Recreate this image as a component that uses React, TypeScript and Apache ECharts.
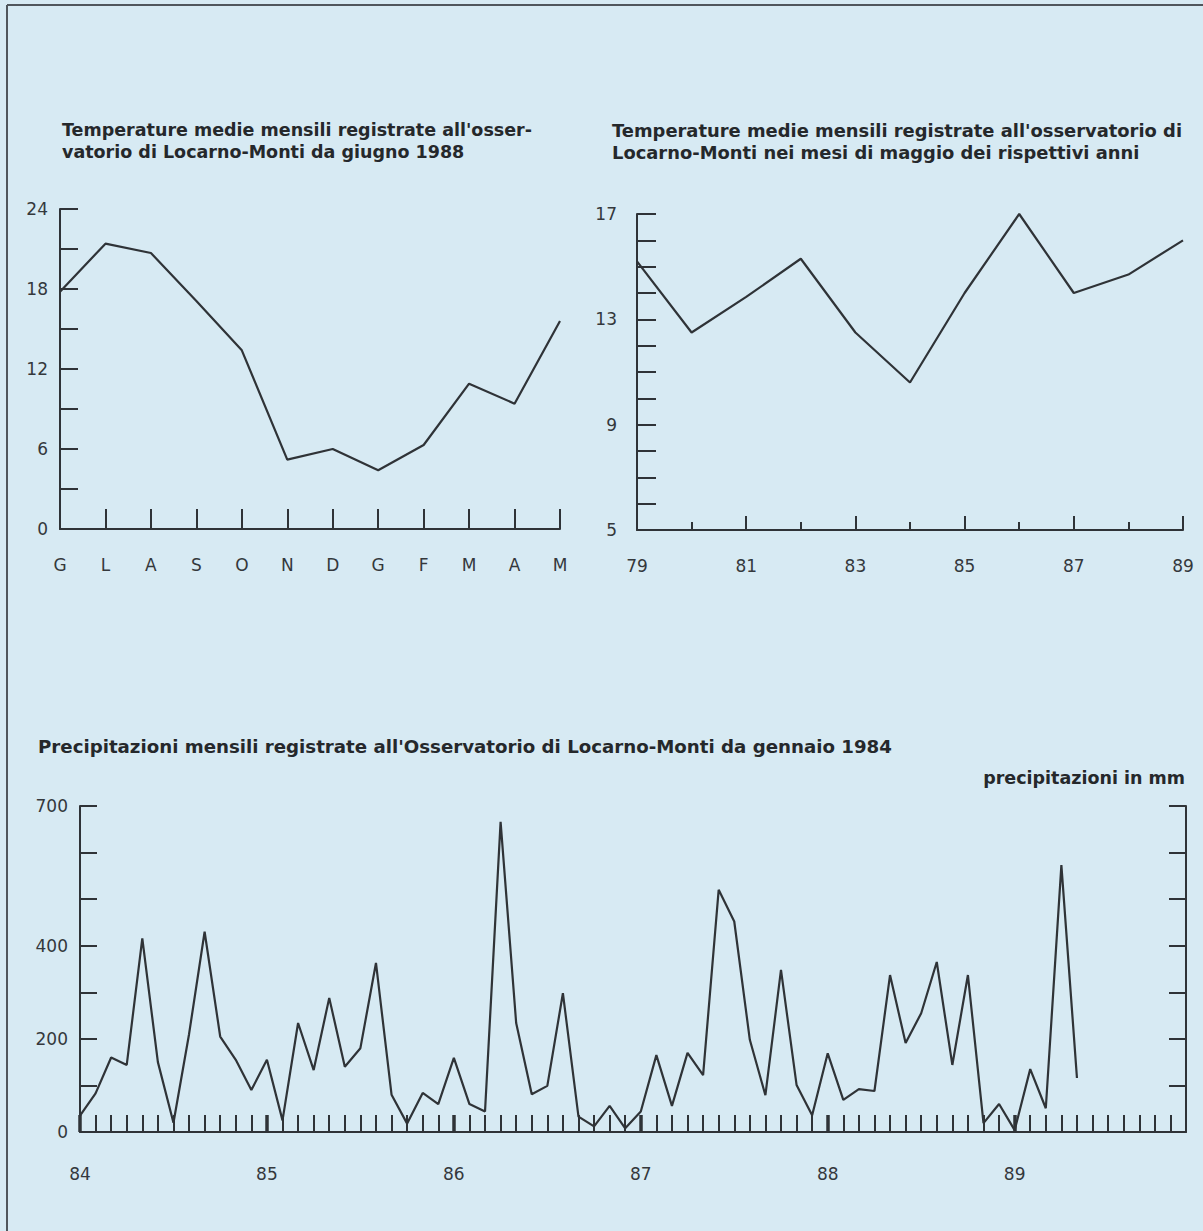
import React, { useEffect, useRef } from "react";
import * as echarts from "echarts";

// ---------- data ----------
const monthLabels = ["G", "L", "A", "S", "O", "N", "D", "G", "F", "M", "A", "M"];
const monthlyTemp = [17.8, 21.4, 20.7, 17.1, 13.4, 5.2, 6.0, 4.4, 6.3, 10.9, 9.4, 15.6];

const mayYears = [79, 80, 81, 82, 83, 84, 85, 86, 87, 88, 89];
const mayTemp = [15.2, 12.5, 13.85, 15.3, 12.5, 10.6, 14.0, 17.0, 14.0, 14.7, 16.0];

const rainYearLabels = ["84", "85", "86", "87", "88", "89"];
const rainMonthCount = 72;
const rainValues = [
  35, 83, 160, 144, 416, 150, 20, 210, 430, 205, 155, 90,
  155, 25, 234, 133, 288, 140, 180, 363, 80, 18, 84, 60,
  159, 60, 44, 666, 234, 81, 99, 298, 33, 12, 56, 8,
  44, 165, 56, 170, 122, 520, 452, 198, 79, 348, 101, 36,
  169, 69, 92, 88, 337, 191, 255, 365, 144, 337, 19, 60,
  4, 135, 51, 573, 116,
];

const titleLeft =
  "Temperature medie mensili registrate all'osser-\nvatorio di Locarno-Monti da giugno 1988";
const titleRight =
  "Temperature medie mensili registrate all'osservatorio di\nLocarno-Monti nei mesi di maggio dei rispettivi anni";
const titleBottom =
  "Precipitazioni mensili registrate all'Osservatorio di Locarno-Monti da gennaio 1984";
const unitLabel = "precipitazioni in mm";

// ---------- styles ----------
const BG = "#d7eaf3";
const INK = "#2f3337";
const FONT = "'DejaVu Sans', Verdana, sans-serif";

const labelStyle = { color: "#34383c", fontSize: 17, fontFamily: FONT };
const lineStyle = { color: INK, width: 2 };

export default function App() {
  const ref = useRef<HTMLDivElement>(null);

  useEffect(() => {
    if (!ref.current) return;
    const chart = echarts.init(ref.current, undefined, { renderer: "svg" });

    const monthCats = monthLabels.map((_, i) => String(i));
    const rainCats = Array.from({ length: rainMonthCount }, (_, i) => String(i));

    const titleText = (size: number) => ({
      color: "#25282b",
      fontSize: size,
      fontWeight: "bold" as const,
      fontFamily: FONT,
      lineHeight: 22,
    });

    chart.setOption({
      animation: false,
      backgroundColor: BG,
      title: [
        { text: titleLeft, left: 62, top: 119, padding: 0, textStyle: titleText(17.5) },
        { text: titleRight, left: 612, top: 119, padding: 0, textStyle: titleText(17.9) },
        { text: titleBottom, left: 38, top: 735, padding: 0, textStyle: titleText(18.2) },
        { text: unitLabel, right: 18, top: 767, padding: 0, textStyle: titleText(17.5) },
      ],
      graphic: [
        { type: "line", shape: { x1: 7, y1: 5, x2: 1203, y2: 5 }, style: { stroke: "#50565c", lineWidth: 2 } },
        { type: "line", shape: { x1: 7, y1: 5, x2: 7, y2: 1231 }, style: { stroke: "#50565c", lineWidth: 2 } },
      ],
      grid: [
        { left: 60, top: 209, width: 500, height: 320, containLabel: false },
        { left: 637, top: 214, width: 546, height: 316, containLabel: false },
        { left: 80, top: 806, width: 1106, height: 326, containLabel: false },
      ],
      xAxis: [
        {
          gridIndex: 0,
          type: "category",
          data: monthCats,
          boundaryGap: false,
          axisLine: { show: true, lineStyle },
          axisTick: { show: true, inside: true, length: 20, interval: 0, lineStyle },
          axisLabel: {
            ...labelStyle,
            interval: 0,
            margin: 27,
            formatter: (v: string) => monthLabels[Number(v)],
          },
          splitLine: { show: false },
        },
        {
          gridIndex: 1,
          type: "value",
          min: 79,
          max: 89,
          interval: 2,
          axisLine: { show: true, lineStyle },
          axisTick: { show: true, inside: true, length: 14, lineStyle },
          minorTick: { show: true, splitNumber: 2, length: 8, lineStyle },
          axisLabel: { ...labelStyle, margin: 27, formatter: (v: number) => String(v) },
          splitLine: { show: false },
        },
        {
          gridIndex: 2,
          type: "category",
          data: rainCats,
          boundaryGap: false,
          position: "bottom",
          axisLine: { show: true, lineStyle },
          axisTick: { show: true, inside: true, length: 17, interval: 0, lineStyle },
          axisLabel: {
            ...labelStyle,
            interval: 0,
            margin: 33,
            formatter: (v: string) => {
              const i = Number(v);
              return i % 12 === 0 ? rainYearLabels[i / 12] ?? "" : "";
            },
          },
          splitLine: { show: false },
        },
        {
          gridIndex: 2,
          type: "category",
          data: rainCats,
          boundaryGap: false,
          position: "bottom",
          axisLine: { show: false },
          axisTick: { show: true, inside: true, length: 17, interval: 11, lineStyle: { color: INK, width: 3.5 } },
          axisLabel: { show: false },
          splitLine: { show: false },
        },
      ],
      yAxis: [
        {
          gridIndex: 0,
          type: "value",
          min: 0,
          max: 24,
          interval: 3,
          axisLine: { show: true, lineStyle },
          axisTick: { show: true, inside: true, length: 18, lineStyle },
          axisLabel: { ...labelStyle, margin: 12, formatter: (v: number) => (v % 6 === 0 ? String(v) : "") },
          splitLine: { show: false },
        },
        {
          gridIndex: 1,
          type: "value",
          min: 5,
          max: 17,
          interval: 1,
          axisLine: { show: true, lineStyle },
          axisTick: { show: true, inside: true, length: 19, lineStyle },
          axisLabel: { ...labelStyle, margin: 20, formatter: (v: number) => ((v - 5) % 4 === 0 ? String(v) : "") },
          splitLine: { show: false },
        },
        {
          gridIndex: 2,
          type: "value",
          min: 0,
          max: 700,
          interval: 100,
          position: "left",
          axisLine: { show: true, lineStyle },
          axisTick: { show: true, inside: true, length: 17, lineStyle },
          axisLabel: {
            ...labelStyle,
            margin: 12,
            formatter: (v: number) => ([0, 200, 400, 700].includes(v) ? String(v) : ""),
          },
          splitLine: { show: false },
        },
        {
          gridIndex: 2,
          type: "value",
          min: 0,
          max: 700,
          interval: 100,
          position: "right",
          axisLine: { show: true, lineStyle },
          axisTick: { show: true, inside: true, length: 17, lineStyle },
          axisLabel: { show: false },
          splitLine: { show: false },
        },
      ],
      series: [
        {
          type: "line",
          xAxisIndex: 0,
          yAxisIndex: 0,
          data: monthlyTemp,
          showSymbol: false,
          lineStyle: { color: INK, width: 2.2 },
        },
        {
          type: "line",
          xAxisIndex: 1,
          yAxisIndex: 1,
          data: mayYears.map((y, i) => [y, mayTemp[i]]),
          showSymbol: false,
          lineStyle: { color: INK, width: 2.2 },
        },
        {
          type: "line",
          xAxisIndex: 2,
          yAxisIndex: 2,
          data: rainValues,
          showSymbol: false,
          lineStyle: { color: INK, width: 2.2 },
        },
      ],
    });

    return () => chart.dispose();
  }, []);

  return (
    <div
      ref={ref}
      style={{ position: "fixed", left: 0, top: 0, width: 1203, height: 1231, background: BG }}
    />
  );
}
